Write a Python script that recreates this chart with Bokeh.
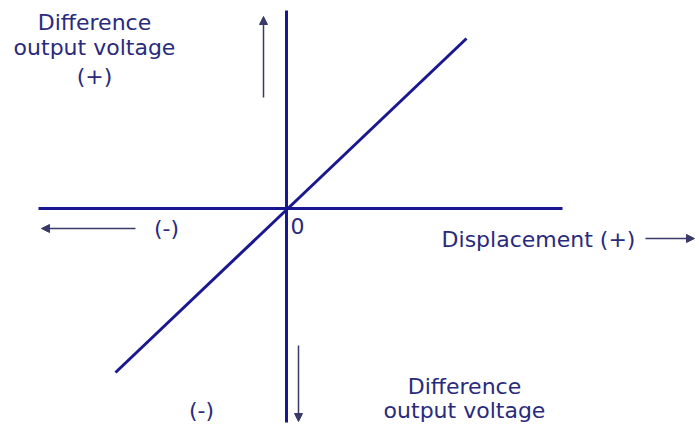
from bokeh.plotting import figure
from bokeh.models import Range1d, Arrow, NormalHead, Label
from bokeh.embed import file_html
from bokeh.resources import INLINE

# Data: the linear characteristic (displacement vs difference output voltage)
displacement = [-171, 180]
voltage = [-164, 170]

# Axis extents
x_axis_extent = [-248, 276]
y_axis_extent = [198, -214]

NAVY = "#1a1890"
TEXT = "#2a2a7c"
ARROW = "#3a3a6a"
FONT = "DejaVu Sans"

W, H = 699, 425
ox, oy = 286, 208  # origin in reference pixels

p = figure(width=W, height=H, output_backend="svg", toolbar_location=None,
           x_range=Range1d(-ox, W - ox), y_range=Range1d(oy - H, oy),
           min_border=0)
p.axis.visible = False
p.grid.visible = False
p.outline_line_color = None
p.background_fill_color = "white"

# axes
p.line(x_axis_extent, [0, 0], line_color=NAVY, line_width=3)
p.line([0, 0], y_axis_extent, line_color=NAVY, line_width=3)

# characteristic line
p.line(displacement, voltage, line_color=NAVY, line_width=3)

def arrow(x0, y0, x1, y1):
    p.add_layout(Arrow(end=NormalHead(size=8, fill_color=ARROW, line_color=ARROW, line_width=1),
                       x_start=x0, y_start=y0, x_end=x1, y_end=y1,
                       line_color=ARROW, line_width=1.5))

arrow(-23, oy - 97, -23, oy - 16)      # up
arrow(12, oy - 345, 12, oy - 421)      # down
arrow(135 - ox, -20, 41 - ox, -20)     # left
arrow(645 - ox, -30, 694 - ox, -30)    # right

def label(text, x, y, align="center", size="22px"):
    p.add_layout(Label(x=x - ox, y=oy - y, text=text, text_font=FONT, text_font_size=size,
                       text_color=TEXT, text_align=align, text_baseline="middle"))

label("Difference", 94, 22)
label("output voltage", 94, 47)
label("(+)", 94, 76)
label("(-)", 166, 228)
label("0", 297, 225)
label("Displacement (+)", 538, 239)
label("(-)", 201, 410)
label("Difference", 464, 386)
label("output voltage", 464, 410)

open("out.html", "w").write(file_html(p, INLINE))
